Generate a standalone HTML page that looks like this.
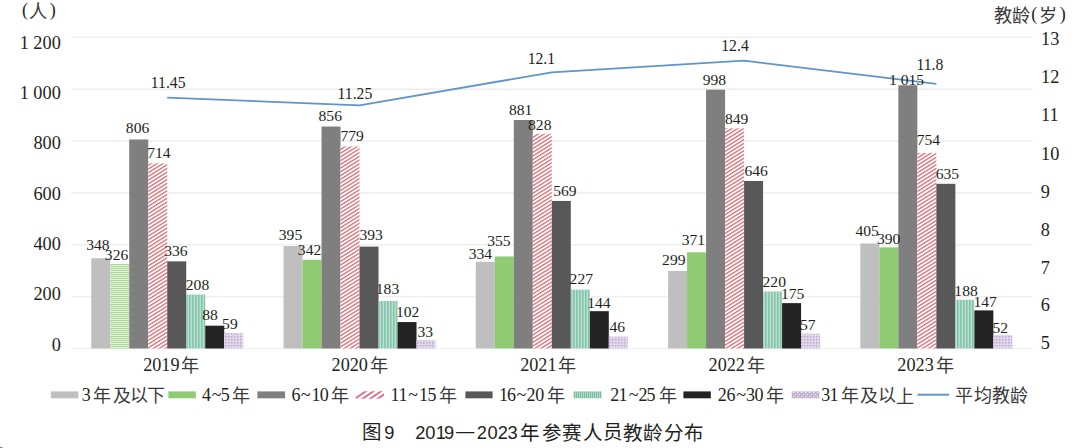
<!DOCTYPE html>
<html lang="zh-CN"><head><meta charset="utf-8"><title>2019—2023年参赛人员教龄分布</title>
<style>
html,body{margin:0;padding:0;background:#fff;width:1080px;height:448px;overflow:hidden}
svg{display:block}
.s{font-family:"Liberation Serif",serif;fill:#231f20}
.h{font-family:"Liberation Sans",sans-serif;fill:#231f20}
.c{fill:#3a3a3a}
.m{font-weight:500}
</style></head><body>
<svg width="1080" height="448" viewBox="0 0 1080 448">
<defs>
<pattern id="pRed" patternUnits="userSpaceOnUse" width="40" height="3.16" patternTransform="rotate(-32)">
<rect width="40" height="3.16" fill="#fff"/><rect width="40" height="1.3" fill="#dc6a74"/></pattern>
<pattern id="pTeal" patternUnits="userSpaceOnUse" width="3" height="10" x="0">
<rect width="3" height="10" fill="#9ad0ba"/><rect x="0" width="1" height="10" fill="#86c3aa"/><rect x="2" width="1" height="10" fill="#b6e0cf"/></pattern>
<pattern id="pPur" patternUnits="userSpaceOnUse" width="3" height="3">
<rect width="3" height="3" fill="#e2d7eb"/><rect width="1.5" height="1.5" fill="#bba7cd"/></pattern>
<pattern id="lTeal" patternUnits="userSpaceOnUse" width="2" height="10">
<rect width="2" height="10" fill="#b2dfcd"/><rect width="1" height="10" fill="#7cb9a0"/></pattern>
<pattern id="lPur" patternUnits="userSpaceOnUse" width="4" height="4">
<rect width="4" height="4" fill="#c4b5cf"/><rect x="1" y="0" width="1.2" height="1.2" fill="#f4eef7"/><rect x="3" y="2" width="1.2" height="1.2" fill="#f4eef7"/></pattern>
<pattern id="pGrn" patternUnits="userSpaceOnUse" width="10" height="2">
<rect width="10" height="2" fill="#e4f3dc"/><rect width="10" height="1" fill="#a8d893"/></pattern>
</defs>
<rect width="1080" height="448" fill="#fff"/>

<rect x="71.1" y="347.70" width="961.4" height="1.6" fill="#f1f1f1"/>
<rect x="71.1" y="295.83" width="961.4" height="1.6" fill="#efefef"/>
<rect x="71.1" y="243.97" width="961.4" height="1.6" fill="#efefef"/>
<rect x="71.1" y="192.10" width="961.4" height="1.6" fill="#efefef"/>
<rect x="71.1" y="140.23" width="961.4" height="1.6" fill="#efefef"/>
<rect x="71.1" y="88.37" width="961.4" height="1.6" fill="#efefef"/>
<rect x="71.1" y="36.50" width="961.4" height="1.6" fill="#efefef"/>
<rect x="91.24" y="258.25" width="19.00" height="90.25" fill="#bfbfbf"/>
<rect x="110.24" y="263.96" width="19.00" height="84.54" fill="url(#pGrn)"/>
<rect x="129.24" y="139.48" width="19.00" height="209.02" fill="#7f7f7f"/>
<rect x="148.24" y="163.34" width="19.00" height="185.16" fill="url(#pRed)"/>
<rect x="167.24" y="261.36" width="19.00" height="87.14" fill="#585858"/>
<rect x="186.24" y="294.56" width="19.00" height="53.94" fill="url(#pTeal)"/>
<rect x="205.24" y="325.68" width="19.00" height="22.82" fill="#242424"/>
<rect x="224.24" y="333.20" width="19.00" height="15.30" fill="url(#pPur)"/>
<rect x="283.52" y="246.06" width="19.00" height="102.44" fill="#bfbfbf"/>
<rect x="302.52" y="259.81" width="19.00" height="88.69" fill="#8ecb72"/>
<rect x="321.52" y="126.51" width="19.00" height="221.99" fill="#7f7f7f"/>
<rect x="340.52" y="146.48" width="19.00" height="202.02" fill="url(#pRed)"/>
<rect x="359.52" y="246.58" width="19.00" height="101.92" fill="#585858"/>
<rect x="378.52" y="301.04" width="19.00" height="47.46" fill="url(#pTeal)"/>
<rect x="397.52" y="322.05" width="19.00" height="26.45" fill="#242424"/>
<rect x="416.52" y="339.94" width="19.00" height="8.56" fill="url(#pPur)"/>
<rect x="475.80" y="261.88" width="19.00" height="86.62" fill="#bfbfbf"/>
<rect x="494.80" y="256.44" width="19.00" height="92.06" fill="#8ecb72"/>
<rect x="513.80" y="120.03" width="19.00" height="228.47" fill="#7f7f7f"/>
<rect x="532.80" y="133.77" width="19.00" height="214.73" fill="url(#pRed)"/>
<rect x="551.80" y="200.94" width="19.00" height="147.56" fill="#585858"/>
<rect x="570.80" y="289.63" width="19.00" height="58.87" fill="url(#pTeal)"/>
<rect x="589.80" y="311.16" width="19.00" height="37.34" fill="#242424"/>
<rect x="608.80" y="336.57" width="19.00" height="11.93" fill="url(#pPur)"/>
<rect x="668.08" y="270.96" width="19.00" height="77.54" fill="#bfbfbf"/>
<rect x="687.08" y="252.29" width="19.00" height="96.21" fill="#8ecb72"/>
<rect x="706.08" y="89.69" width="19.00" height="258.81" fill="#7f7f7f"/>
<rect x="725.08" y="128.33" width="19.00" height="220.17" fill="url(#pRed)"/>
<rect x="744.08" y="180.97" width="19.00" height="167.53" fill="#585858"/>
<rect x="763.08" y="291.45" width="19.00" height="57.05" fill="url(#pTeal)"/>
<rect x="782.08" y="303.12" width="19.00" height="45.38" fill="#242424"/>
<rect x="801.08" y="333.72" width="19.00" height="14.78" fill="url(#pPur)"/>
<rect x="860.36" y="243.47" width="19.00" height="105.03" fill="#bfbfbf"/>
<rect x="879.36" y="247.36" width="19.00" height="101.14" fill="#8ecb72"/>
<rect x="898.36" y="85.28" width="19.00" height="263.22" fill="#7f7f7f"/>
<rect x="917.36" y="152.96" width="19.00" height="195.54" fill="url(#pRed)"/>
<rect x="936.36" y="183.82" width="19.00" height="164.68" fill="#585858"/>
<rect x="955.36" y="299.75" width="19.00" height="48.75" fill="url(#pTeal)"/>
<rect x="974.36" y="310.38" width="19.00" height="38.12" fill="#242424"/>
<rect x="993.36" y="335.01" width="19.00" height="13.49" fill="url(#pPur)"/>
<polyline points="167.24,97.60 359.52,105.38 551.80,72.31 744.08,60.64 936.36,83.98" fill="none" stroke="#5e95ca" stroke-width="1.75" stroke-linejoin="round"/>
<text id="v2019_0" class="s" x="97.95" y="249.76" font-size="15.6" text-anchor="middle">348</text>
<text id="v2019_1" class="s" x="116.55" y="259.99" font-size="15.6" text-anchor="middle">326</text>
<text id="v2019_2" class="s" x="137.55" y="133.30" font-size="15.6" text-anchor="middle">806</text>
<text id="v2019_3" class="s" x="158.95" y="157.50" font-size="15.6" text-anchor="middle">714</text>
<text id="v2019_4" class="s" x="175.95" y="256.20" font-size="15.6" text-anchor="middle">336</text>
<text id="v2019_5" class="s" x="197.50" y="290.20" font-size="15.6" text-anchor="middle">208</text>
<text id="v2019_6" class="s" x="209.95" y="319.60" font-size="15.6" text-anchor="middle">88</text>
<text id="v2019_7" class="s" x="229.90" y="328.80" font-size="15.6" text-anchor="middle">59</text>
<text id="v2020_0" class="s" x="290.50" y="240.40" font-size="15.6" text-anchor="middle">395</text>
<text id="v2020_1" class="s" x="309.55" y="255.00" font-size="15.6" text-anchor="middle">342</text>
<text id="v2020_2" class="s" x="330.25" y="121.00" font-size="15.6" text-anchor="middle">856</text>
<text id="v2020_3" class="s" x="352.15" y="140.60" font-size="15.6" text-anchor="middle">779</text>
<text id="v2020_4" class="s" x="371.15" y="239.60" font-size="15.6" text-anchor="middle">393</text>
<text id="v2020_5" class="s" x="387.50" y="294.40" font-size="15.6" text-anchor="middle">183</text>
<text id="v2020_6" class="s" x="407.65" y="317.40" font-size="15.6" text-anchor="middle">102</text>
<text id="v2020_7" class="s" x="425.30" y="337.30" font-size="15.6" text-anchor="middle">33</text>
<text id="v2021_0" class="s" x="480.40" y="259.20" font-size="15.6" text-anchor="middle">334</text>
<text id="v2021_1" class="s" x="498.90" y="245.55" font-size="15.6" text-anchor="middle">355</text>
<text id="v2021_2" class="s" x="520.70" y="114.70" font-size="15.6" text-anchor="middle">881</text>
<text id="v2021_3" class="s" x="539.75" y="130.00" font-size="15.6" text-anchor="middle">828</text>
<text id="v2021_4" class="s" x="564.85" y="196.20" font-size="15.6" text-anchor="middle">569</text>
<text id="v2021_5" class="s" x="581.30" y="284.40" font-size="15.6" text-anchor="middle">227</text>
<text id="v2021_6" class="s" x="598.90" y="307.80" font-size="15.6" text-anchor="middle">144</text>
<text id="v2021_7" class="s" x="617.25" y="332.15" font-size="15.6" text-anchor="middle">46</text>
<text id="v2022_0" class="s" x="673.80" y="265.30" font-size="15.6" text-anchor="middle">299</text>
<text id="v2022_1" class="s" x="693.40" y="245.20" font-size="15.6" text-anchor="middle">371</text>
<text id="v2022_2" class="s" x="714.45" y="84.80" font-size="15.6" text-anchor="middle">998</text>
<text id="v2022_3" class="s" x="736.60" y="123.80" font-size="15.6" text-anchor="middle">849</text>
<text id="v2022_4" class="s" x="756.10" y="175.70" font-size="15.6" text-anchor="middle">646</text>
<text id="v2022_5" class="s" x="774.25" y="286.80" font-size="15.6" text-anchor="middle">220</text>
<text id="v2022_6" class="s" x="792.70" y="298.80" font-size="15.6" text-anchor="middle">175</text>
<text id="v2022_7" class="s" x="807.80" y="330.00" font-size="15.6" text-anchor="middle">57</text>
<text id="v2023_0" class="s" x="867.20" y="235.70" font-size="15.6" text-anchor="middle">405</text>
<text id="v2023_1" class="s" x="888.60" y="243.90" font-size="15.6" text-anchor="middle">390</text>
<text id="v2023_2" class="s" x="906.55" y="84.70" font-size="15.6" text-anchor="middle">1 015</text>
<text id="v2023_3" class="s" x="928.45" y="145.20" font-size="15.6" text-anchor="middle">754</text>
<text id="v2023_4" class="s" x="947.45" y="179.10" font-size="15.6" text-anchor="middle">635</text>
<text id="v2023_5" class="s" x="966.05" y="296.30" font-size="15.6" text-anchor="middle">188</text>
<text id="v2023_6" class="s" x="985.10" y="307.10" font-size="15.6" text-anchor="middle">147</text>
<text id="v2023_7" class="s" x="1000.25" y="333.30" font-size="15.6" text-anchor="middle">52</text>
<text id="a0" class="s" x="168.21" y="88.40" font-size="15.7" text-anchor="middle">11.45</text>
<text id="a1" class="s" x="354.94" y="98.60" font-size="15.7" text-anchor="middle">11.25</text>
<text id="a2" class="s" x="541.40" y="64.30" font-size="15.7" text-anchor="middle">12.1</text>
<text id="a3" class="s" x="735.00" y="50.50" font-size="15.7" text-anchor="middle">12.4</text>
<text id="a4" class="s" x="929.90" y="70.40" font-size="15.7" text-anchor="middle">11.8</text>
<text id="l0" class="s" x="60.80" y="48.90" font-size="18.3" text-anchor="end">1 200</text>
<text id="l1" class="s" x="60.80" y="99.10" font-size="18.3" text-anchor="end">1 000</text>
<text id="l2" class="s" x="60.80" y="149.10" font-size="18.3" text-anchor="end">800</text>
<text id="l3" class="s" x="60.80" y="199.60" font-size="18.3" text-anchor="end">600</text>
<text id="l4" class="s" x="60.80" y="250.40" font-size="18.3" text-anchor="end">400</text>
<text id="l5" class="s" x="60.80" y="300.10" font-size="18.3" text-anchor="end">200</text>
<text id="l6" class="s" x="60.80" y="350.60" font-size="18.3" text-anchor="end">0</text>
<text id="r0" class="s" x="1041.10" y="44.50" font-size="18.3" text-anchor="start">13</text>
<text id="r1" class="s" x="1041.10" y="82.95" font-size="18.3" text-anchor="start">12</text>
<text id="r2" class="s" x="1041.10" y="121.47" font-size="18.3" text-anchor="start">11</text>
<text id="r3" class="s" x="1041.10" y="160.30" font-size="18.3" text-anchor="start">10</text>
<text id="r4" class="s" x="1040.70" y="198.30" font-size="18.3" text-anchor="start">9</text>
<text id="r5" class="s" x="1040.70" y="235.85" font-size="18.3" text-anchor="start">8</text>
<text id="r6" class="s" x="1040.70" y="273.55" font-size="18.3" text-anchor="start">7</text>
<text id="r7" class="s" x="1040.70" y="311.40" font-size="18.3" text-anchor="start">6</text>
<text id="r8" class="s" x="1040.70" y="348.93" font-size="18.3" text-anchor="start">5</text>
<text id="x0" class="s"><tspan x="143.15" y="371.28" font-size="18.2">2</tspan><tspan x="152.25" y="371.21" font-size="18.2">0</tspan><tspan x="161.35" y="371.26" font-size="18.2">1</tspan><tspan x="170.45" y="371.19" font-size="18.2">9</tspan><tspan x="181.40" y="372.19" font-size="18.2" class="c">年</tspan></text>
<text id="x1" class="s"><tspan x="331.55" y="371.28" font-size="18.2">2</tspan><tspan x="340.65" y="371.21" font-size="18.2">0</tspan><tspan x="349.75" y="371.28" font-size="18.2">2</tspan><tspan x="358.85" y="371.21" font-size="18.2">0</tspan><tspan x="369.80" y="372.19" font-size="18.2" class="c">年</tspan></text>
<text id="x2" class="s"><tspan x="520.15" y="371.28" font-size="18.2">2</tspan><tspan x="529.25" y="371.21" font-size="18.2">0</tspan><tspan x="538.35" y="371.28" font-size="18.2">2</tspan><tspan x="547.45" y="371.26" font-size="18.2">1</tspan><tspan x="558.40" y="372.19" font-size="18.2" class="c">年</tspan></text>
<text id="x3" class="s"><tspan x="708.55" y="371.28" font-size="18.2">2</tspan><tspan x="717.65" y="371.21" font-size="18.2">0</tspan><tspan x="726.75" y="371.28" font-size="18.2">2</tspan><tspan x="735.85" y="371.28" font-size="18.2">2</tspan><tspan x="746.80" y="372.19" font-size="18.2" class="c">年</tspan></text>
<text id="x4" class="s"><tspan x="897.35" y="371.28" font-size="18.2">2</tspan><tspan x="906.45" y="371.21" font-size="18.2">0</tspan><tspan x="915.55" y="371.28" font-size="18.2">2</tspan><tspan x="924.65" y="371.19" font-size="18.2">3</tspan><tspan x="935.60" y="372.19" font-size="18.2" class="c">年</tspan></text>
<text id="ul" class="s"><tspan x="22.06" y="15.93" font-size="18">(</tspan><tspan x="29.22" y="18.40" font-size="18.3" class="c">人</tspan><tspan x="49.87" y="15.93" font-size="18">)</tspan></text>
<text id="ur" class="s"><tspan x="993.59" y="22.16" font-size="18.2" class="c">教</tspan><tspan x="1011.76" y="22.21" font-size="18.2" class="c">龄</tspan><tspan x="1031.26" y="19.58" font-size="18">(</tspan><tspan x="1038.93" y="22.23" font-size="18.2" class="c">岁</tspan><tspan x="1059.87" y="19.58" font-size="18">)</tspan></text>
<text id="g0" class="s"><tspan x="81.69" y="401.27" font-size="18">3</tspan><tspan x="93.21" y="402.27" font-size="18" class="c">年</tspan><tspan x="112.59" y="401.76" font-size="18" class="c">及</tspan><tspan x="129.53" y="401.85" font-size="18" class="c">以</tspan><tspan x="147.31" y="401.57" font-size="18" class="c">下</tspan></text>
<text id="g1" class="s"><tspan x="202.00" y="401.32" font-size="18">4</tspan><tspan x="211.65" y="401.32" font-size="18">~</tspan><tspan x="220.70" y="401.21" font-size="18">5</tspan><tspan x="232.41" y="402.27" font-size="18" class="c">年</tspan></text>
<text id="g2" class="s"><tspan x="291.38" y="401.27" font-size="18">6</tspan><tspan x="300.85" y="401.32" font-size="18">~</tspan><tspan x="311.47" y="401.34" font-size="18">1</tspan><tspan x="319.86" y="401.30" font-size="18">0</tspan><tspan x="330.81" y="402.27" font-size="18" class="c">年</tspan></text>
<text id="g3" class="s"><tspan x="390.57" y="401.34" font-size="18">1</tspan><tspan x="398.52" y="401.34" font-size="18">1</tspan><tspan x="408.35" y="401.32" font-size="18">~</tspan><tspan x="418.97" y="401.34" font-size="18">1</tspan><tspan x="427.40" y="401.21" font-size="18">5</tspan><tspan x="439.16" y="402.27" font-size="18" class="c">年</tspan></text>
<text id="g4" class="s"><tspan x="499.02" y="401.34" font-size="18">1</tspan><tspan x="506.88" y="401.27" font-size="18">6</tspan><tspan x="516.55" y="401.32" font-size="18">~</tspan><tspan x="526.46" y="401.36" font-size="18">2</tspan><tspan x="535.36" y="401.30" font-size="18">0</tspan><tspan x="546.71" y="402.27" font-size="18" class="c">年</tspan></text>
<text id="g5" class="s"><tspan x="610.26" y="401.36" font-size="18">2</tspan><tspan x="618.57" y="401.34" font-size="18">1</tspan><tspan x="628.65" y="401.32" font-size="18">~</tspan><tspan x="638.56" y="401.36" font-size="18">2</tspan><tspan x="646.60" y="401.21" font-size="18">5</tspan><tspan x="658.81" y="402.27" font-size="18" class="c">年</tspan></text>
<text id="g6" class="s"><tspan x="717.81" y="401.36" font-size="18">2</tspan><tspan x="726.58" y="401.27" font-size="18">6</tspan><tspan x="736.15" y="401.32" font-size="18">~</tspan><tspan x="746.09" y="401.27" font-size="18">3</tspan><tspan x="754.56" y="401.30" font-size="18">0</tspan><tspan x="766.41" y="402.27" font-size="18" class="c">年</tspan></text>
<text id="g7" class="s"><tspan x="821.19" y="401.27" font-size="18">3</tspan><tspan x="829.57" y="401.34" font-size="18">1</tspan><tspan x="841.31" y="402.27" font-size="18" class="c">年</tspan><tspan x="859.99" y="401.76" font-size="18" class="c">及</tspan><tspan x="877.63" y="401.85" font-size="18" class="c">以</tspan><tspan x="895.94" y="402.52" font-size="18" class="c">上</tspan></text>
<text id="g8" class="s"><tspan x="954.74" y="401.61" font-size="18" class="c">平</tspan><tspan x="973.81" y="402.24" font-size="18" class="c">均</tspan><tspan x="991.69" y="402.23" font-size="18" class="c">教</tspan><tspan x="1010.27" y="402.28" font-size="18" class="c">龄</tspan></text>
<text id="t0" class="h"><tspan x="362.01" y="439.45" font-size="19.5" class="m">图</tspan><tspan x="384.19" y="438.75" font-size="18.3">9</tspan><tspan x="415.23" y="438.84" font-size="18.3">2</tspan><tspan x="425.24" y="438.75" font-size="18.3">0</tspan><tspan x="435.66" y="438.75" font-size="18.3">1</tspan><tspan x="443.89" y="438.75" font-size="18.3">9</tspan><tspan x="455.95" y="437.09" font-size="18.3">—</tspan><tspan x="476.63" y="438.84" font-size="18.3">2</tspan><tspan x="487.44" y="438.75" font-size="18.3">0</tspan><tspan x="497.73" y="438.84" font-size="18.3">2</tspan><tspan x="507.45" y="438.75" font-size="18.3">3</tspan><tspan x="520.49" y="439.90" font-size="19.5" class="m">年</tspan><tspan x="541.63" y="439.93" font-size="19.5" class="m">参</tspan><tspan x="562.47" y="439.97" font-size="19.5" class="m">赛</tspan><tspan x="582.65" y="439.87" font-size="19.5" class="m">人</tspan><tspan x="603.16" y="439.38" font-size="19.5" class="m">员</tspan><tspan x="623.24" y="439.83" font-size="19.5" class="m">教</tspan><tspan x="643.39" y="439.86" font-size="19.5" class="m">龄</tspan><tspan x="664.29" y="439.68" font-size="19.5" class="m">分</tspan><tspan x="684.36" y="439.88" font-size="19.5" class="m">布</tspan></text>
<rect x="50.9" y="391.4" width="27.45" height="6.9" fill="#bfbfbf"/>
<rect x="168.4" y="391.4" width="27.45" height="6.9" fill="#8ecb72"/>
<rect x="257.4" y="391.4" width="27.70" height="6.9" fill="#7f7f7f"/>
<clipPath id="cRed"><rect x="355.6" y="391.3" width="28.5" height="7.4"/></clipPath><g clip-path="url(#cRed)">
<line x1="352.50" y1="400.47" x2="368.50" y2="389.43" stroke="#dc7088" stroke-width="1.9"/>
<line x1="360.10" y1="400.47" x2="376.10" y2="389.43" stroke="#dc7088" stroke-width="1.9"/>
<line x1="367.70" y1="400.47" x2="383.70" y2="389.43" stroke="#dc7088" stroke-width="1.9"/>
<line x1="375.30" y1="400.47" x2="391.30" y2="389.43" stroke="#dc7088" stroke-width="1.9"/>
</g>
<rect x="465.4" y="391.4" width="27.20" height="6.9" fill="#585858"/>
<rect x="573.4" y="391.4" width="28.20" height="6.9" fill="url(#lTeal)"/>
<rect x="683.4" y="391.4" width="27.45" height="6.9" fill="#242424"/>
<rect x="791.65" y="391.4" width="27.95" height="6.9" fill="url(#lPur)"/>
<rect x="917.5" y="393.7" width="31.5" height="2" fill="#5e95ca"/>
<rect x="0" y="447" width="1" height="1" fill="#d0603a"/><rect x="1" y="447" width="1" height="1" fill="#4a9a70"/><rect x="2" y="447" width="1" height="1" fill="#b8b8f0"/>
</svg></body></html>
